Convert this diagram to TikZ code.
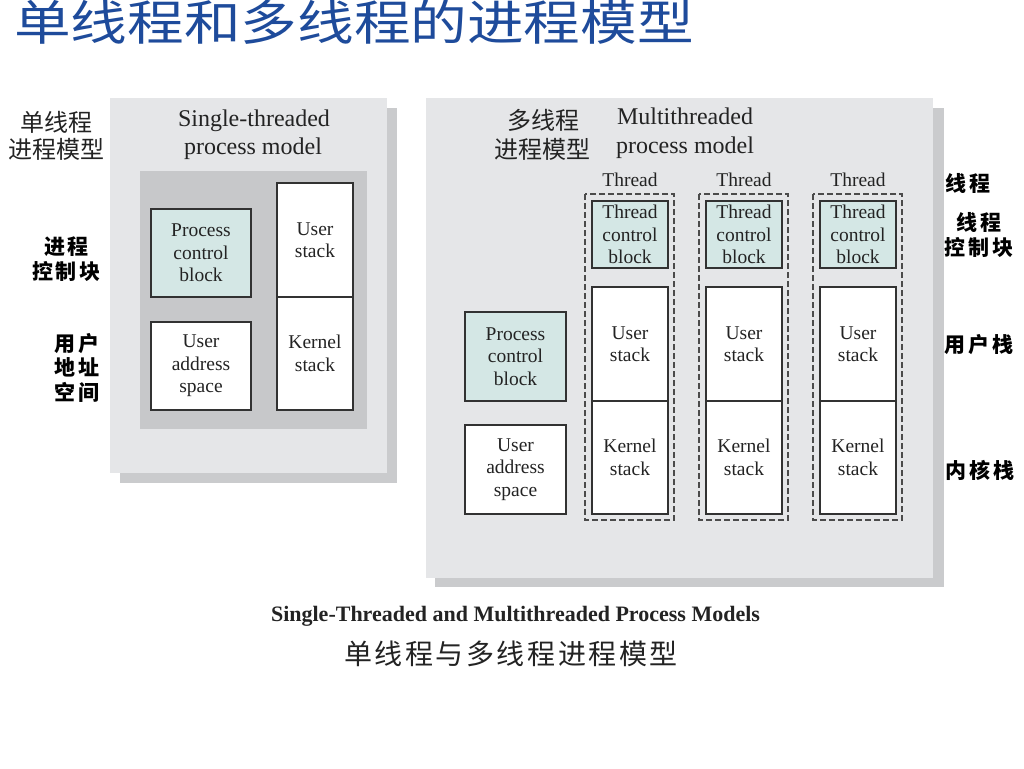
\documentclass[tikz,border=0pt]{standalone}
\usepackage{fontspec}
\setmainfont{Liberation Serif}
\newfontfamily\cjk{Noto Sans CJK SC}
\newfontfamily\cjkcap{Noto Sans CJK SC}[LetterSpace=9]
\newfontfamily\cjklab{Noto Sans CJK SC}[LetterSpace=14]
\definecolor{panelgray}{RGB}{229,230,232}
\definecolor{shadowgray}{RGB}{202,203,205}
\definecolor{innergray}{RGB}{199,200,202}
\definecolor{tealfill}{RGB}{212,231,229}
\definecolor{boxline}{RGB}{50,50,50}
\definecolor{dashline}{RGB}{75,75,75}
\definecolor{txt}{RGB}{35,35,35}
\definecolor{titleblue}{RGB}{30,75,155}
\begin{document}
\begin{tikzpicture}[x=1pt,y=-1pt,
  panel/.style={fill=panelgray},
  shade/.style={fill=shadowgray},
  innerbg/.style={fill=innergray},
  blk/.style={draw=boxline,line width=1.2pt,fill=white,inner sep=0pt,align=center,text=txt,
    font=\fontsize{19.5pt}{22.5pt}\selectfont},
  ctl/.style={blk,fill=tealfill},
  thr/.style={draw=dashline,line width=1.1pt,dash pattern=on 6pt off 3pt},
  hdr/.style={anchor=base,text=txt,font=\fontsize{24pt}{28pt}\selectfont,inner sep=0pt},
  hdrcn/.style={text=txt,font=\fontsize{24pt}{28pt}\cjk,inner sep=0pt},
  lab/.style={text=black,font=\fontsize{21pt}{24.5pt}\cjklab\bfseries,align=center,inner sep=0pt},
  thl/.style={anchor=base,text=txt,font=\fontsize{19.5pt}{22pt}\selectfont,inner sep=0pt}
]
\fill[white] (0,0) rectangle (1024,768);
\useasboundingbox (0,0) rectangle (1024,768);

% title
\node[anchor=west,inner sep=0pt,xscale=1.18,text=titleblue,font=\fontsize{48pt}{56pt}\cjk] (title) at (14,22) {单线程和多线程的进程模型};

% ---------- single-threaded ----------
\fill[shade] (120,108) rectangle (397,483);
\fill[panel] (110,98) rectangle (387,473);
\fill[innerbg] (140,171) rectangle (367,429);
\node[hdr] (sh1) at (254,126) {Single-threaded};
\node[hdr] (sh2) at (253,154) {process model};
\node[ctl,minimum width=100pt,minimum height=88pt] (spcb) at (201,253) {Process\\control\\block};
\node[blk,minimum width=100pt,minimum height=88pt] (suas) at (201,366) {User\\address\\space};
\node[blk,minimum width=76pt,minimum height=114pt] (sus) at (315,240) {User\\stack};
\node[blk,minimum width=76pt,minimum height=113pt] (sks) at (315,353.5) {Kernel\\stack};

\node[hdrcn] (scn1) at (56,122) {单线程};
\node[hdrcn] (scn2) at (57,149) {进程模型};
\node[lab] (lpcb) at (66.5,259) {进程\\控制块};
\node[lab] (luas) at (77,367.5) {用户\\地址\\空间};

% ---------- multithreaded ----------
\fill[shade] (435,108) rectangle (944,587);
\fill[panel] (426,98) rectangle (933,578);
\node[hdrcn] (mcn1) at (543,120) {多线程};
\node[hdrcn] (mcn2) at (542,149) {进程模型};
\node[hdr] (mh1) at (685,124) {Multithreaded};
\node[hdr] (mh2) at (685,153) {process model};
\node[ctl,minimum width=101pt,minimum height=89pt] (mpcb) at (515.5,356.5) {Process\\control\\block};
\node[blk,minimum width=101pt,minimum height=89pt] (muas) at (515.5,469.5) {User\\address\\space};

\foreach \i/\x in {1/585,2/699,3/813}{
  \draw[thr] (\x,194) rectangle ({\x+89},520);
  \node[thl] (thl\i) at ({\x+45},186) {Thread};
  \node[ctl,minimum width=76pt,minimum height=67pt] (tcb\i) at ({\x+45},234.5) {Thread\\control\\block};
  \node[blk,minimum width=76pt,minimum height=114pt] (us\i) at ({\x+45},344) {User\\stack};
  \node[blk,minimum width=76pt,minimum height=113pt] (ks\i) at ({\x+45},457.5) {Kernel\\stack};
}

\node[lab] (rth) at (968,183) {线程};
\node[lab] (rtcb) at (979,235) {线程\\控制块};
\node[lab] (rus) at (979,345) {用户栈};
\node[lab] (rks) at (980,470) {内核栈};

% ---------- captions ----------
\node[anchor=base,inner sep=0pt,text=txt,font=\fontsize{22pt}{26pt}\selectfont\bfseries] (capen) at (515.5,621) {Single-Threaded and Multithreaded Process Models};
\node[inner sep=0pt,text=txt,font=\fontsize{28pt}{32pt}\cjkcap] (capcn) at (511,654) {单线程与多线程进程模型};
\end{tikzpicture}
\end{document}
